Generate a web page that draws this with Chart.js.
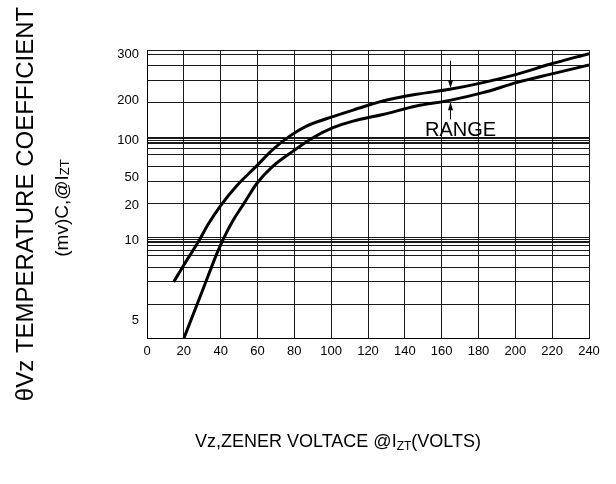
<!DOCTYPE html>
<html>
<head>
<meta charset="utf-8">
<script src="https://cdn.jsdelivr.net/npm/chart.js@4.4.1/dist/chart.umd.min.js"></script>
<style>
  html, body { margin: 0; padding: 0; background: #fff; }
  #wrap { width: 616px; height: 484px; }
</style>
</head>
<body>
<div id="wrap"><canvas id="myChart" width="616" height="484"></canvas></div>
<script>
// ---- data ----
const voltsUpper = [14.5, 20.1, 28.6, 33.1, 40.4, 48.5, 59.4, 68.4, 77.5, 86.6, 99.2, 111.9, 128.1, 146.3, 164.4, 182.4, 200.6, 218.7, 240];
const coefUpper  = [7.41, 8.49, 10.29, 14.57, 21.06, 40.46, 65.2, 88.3, 112, 137, 158, 177, 199.6, 213.9, 224.6, 238.9, 256.6, 278.0, 300.9];
const voltsLower = [20.1, 26.8, 33.1, 37.7, 41.3, 46.7, 50.3, 54.0, 59.4, 68.4, 79.3, 90.1, 101.0, 111.9, 128.1, 146.3, 164.4, 182.4, 200.6, 218.7, 240];
const coefLower  = [3.90, 5.88, 7.76, 9.12, 10.29, 15.71, 18.71, 26.4, 42.8, 65.2, 85.9, 108, 133, 149.5, 166, 187, 201, 217.5, 238.9, 256.6, 276.5];
const yTicks = [5, 10, 20, 50, 100, 200, 300];
const xMax = 240;
const xStep = 20;
// "RANGE" marker: arrows at this voltage, from/to coefficient values
const rangeVolts = 164.4;
const rangeArrowDown = [285.5, 226.7];
const rangeArrowUp = [153.8, 196.8];
const rangeText = 'RANGE';
const rangeTextAt = [170.3, 127];

// ---- layout of the odd y axis (fraction of plot height, from the bottom) ----
const yTickPlace = [0.0612, 0.3383, 0.4600, 0.5584, 0.6843, 0.8234, 0.9861];
const yGridPlace = [0, 0.1147, 0.1947, 0.2455, 0.2872, 0.3046, 0.3209, 0.3303, 0.3359, 0.3418, 0.3477,
  0.4659, 0.5445, 0.5967, 0.6373, 0.6582, 0.6745, 0.6801, 0.6871, 0.6930, 0.6975,
  0.8171, 0.8946, 0.9479, 0.9850, 1];

const FONT = '"Liberation Sans", Arial, Helvetica, sans-serif';

// piecewise scale: tick labels sit at fixed places, values between them are interpolated
class PiecewiseScale extends Chart.LinearScale {
  toDecimal(v) {
    let i = 0;
    while (i < yTicks.length - 2 && v > yTicks[i + 1]) i++;
    const v0 = yTicks[i], v1 = yTicks[i + 1];
    const d0 = yTickPlace[i], d1 = yTickPlace[i + 1];
    return d0 + (v - v0) * (d1 - d0) / (v1 - v0);
  }
  fromDecimal(d) {
    let i = 0;
    while (i < yTickPlace.length - 2 && d > yTickPlace[i + 1]) i++;
    const v0 = yTicks[i], v1 = yTicks[i + 1];
    const d0 = yTickPlace[i], d1 = yTickPlace[i + 1];
    return v0 + (d - d0) * (v1 - v0) / (d1 - d0);
  }
  buildTicks() {
    const ticks = yTicks.map(v => ({ value: v, text: true, line: false }));
    yGridPlace.forEach(d => ticks.push({ value: this.fromDecimal(d), text: false, line: true }));
    ticks.sort((a, b) => a.value - b.value);
    return ticks;
  }
  getPixelForValue(v) {
    return this.getPixelForDecimal(this.toDecimal(v));
  }
  getValueForPixel(px) {
    return this.fromDecimal(this.getDecimalForPixel(px));
  }
}
PiecewiseScale.id = 'piecewise';
PiecewiseScale.defaults = Chart.LinearScale.defaults;
Chart.register(PiecewiseScale);

function drawParts(ctx, parts, x, y) {
  let cx = x;
  parts.forEach(p => {
    ctx.font = p.size + 'px ' + FONT;
    ctx.fillText(p.text, cx, y + (p.shift || 0));
    cx += ctx.measureText(p.text).width;
  });
}
function partsWidth(ctx, parts) {
  let w = 0;
  parts.forEach(p => {
    ctx.font = p.size + 'px ' + FONT;
    w += ctx.measureText(p.text).width;
  });
  return w;
}

const extras = {
  id: 'extras',
  afterDatasetsDraw(chart) {
    const ctx = chart.ctx;
    const xs = chart.scales.x, ys = chart.scales.y;
    ctx.save();
    ctx.fillStyle = '#000';
    ctx.strokeStyle = '#000';
    ctx.lineWidth = 1;
    // range arrows
    const ax = Math.round(xs.getPixelForValue(rangeVolts)) + 0.5;
    [rangeArrowDown, rangeArrowUp].forEach(a => {
      const y0 = ys.getPixelForValue(a[0]);
      const y1 = ys.getPixelForValue(a[1]);
      const dir = y1 > y0 ? 1 : -1;
      ctx.beginPath();
      ctx.moveTo(ax, y0);
      ctx.lineTo(ax, y1 - dir * 6);
      ctx.stroke();
      ctx.beginPath();
      ctx.moveTo(ax, y1);
      ctx.lineTo(ax - 2.5, y1 - dir * 8);
      ctx.lineTo(ax + 2.5, y1 - dir * 8);
      ctx.closePath();
      ctx.fill();
    });
    ctx.font = '20px ' + FONT;
    ctx.textAlign = 'center';
    ctx.textBaseline = 'middle';
    ctx.fillText(rangeText, xs.getPixelForValue(rangeTextAt[0]), ys.getPixelForValue(rangeTextAt[1]));
    ctx.restore();
  },
  afterDraw(chart) {
    const ctx = chart.ctx;
    ctx.save();
    ctx.fillStyle = '#000';
    ctx.textBaseline = 'alphabetic';
    ctx.textAlign = 'left';
    // y axis title, two lines, rotated
    const line1 = [{ text: 'θVz TEMPERATURE COEFFICIENT', size: 24 }];
    const line2 = [{ text: '(mv)C,@I', size: 19 }, { text: 'ZT', size: 13, shift: 1 }];
    [[line1, 33, 204], [line2, 68, 208]].forEach(([parts, bx, cy]) => {
      ctx.save();
      ctx.translate(bx, cy);
      ctx.rotate(-Math.PI / 2);
      drawParts(ctx, parts, -partsWidth(ctx, parts) / 2, 0);
      ctx.restore();
    });
    // x axis title
    const xt = [{ text: 'Vz,ZENER VOLTACE @I', size: 18 }, { text: 'ZT', size: 12, shift: 3 }, { text: '(VOLTS)', size: 18 }];
    drawParts(ctx, xt, 195, 447);
    ctx.restore();
  }
};

const ctx = document.getElementById('myChart');
const myChart = new Chart(ctx, {
  type: 'line',
  data: {
    datasets: [{
      label: 'upper',
      data: voltsUpper.map((v, i) => ({ x: v, y: coefUpper[i] })),
      borderColor: '#000',
      borderWidth: 3,
      pointRadius: 0,
      fill: false,
      cubicInterpolationMode: 'monotone'
    }, {
      label: 'lower',
      data: voltsLower.map((v, i) => ({ x: v, y: coefLower[i] })),
      borderColor: '#000',
      borderWidth: 3,
      pointRadius: 0,
      fill: false,
      cubicInterpolationMode: 'monotone'
    }]
  },
  options: {
    responsive: false,
    animation: false,
    events: [],
    layout: { padding: { left: 0, top: 50, right: 27, bottom: 0 } },
    plugins: { legend: { display: false }, tooltip: { enabled: false }, title: { display: false } },
    scales: {
      x: {
        type: 'linear',
        min: 0,
        max: xMax,
        afterFit: s => { s.height = 146; },
        border: { display: true, color: '#000', width: 1 },
        grid: { color: '#1a1a1a', lineWidth: 1, drawTicks: false },
        ticks: {
          stepSize: xStep,
          autoSkip: false,
          maxRotation: 0,
          padding: 6,
          color: '#000',
          font: { family: FONT, size: 13 }
        }
      },
      y: {
        type: 'piecewise',
        afterFit: s => { s.width = 147; },
        border: { display: true, color: '#000', width: 1 },
        grid: {
          lineWidth: 1,
          drawTicks: false,
          color: c => (c.tick && c.tick.line) ? '#1a1a1a' : 'rgba(0,0,0,0)'
        },
        ticks: {
          autoSkip: false,
          padding: 8,
          color: '#000',
          font: { family: FONT, size: 13 },
          callback: function(value, index, ticks) {
            return ticks[index].text ? String(value) : '';
          }
        }
      }
    }
  },
  plugins: [extras]
});
</script>
</body>
</html>
